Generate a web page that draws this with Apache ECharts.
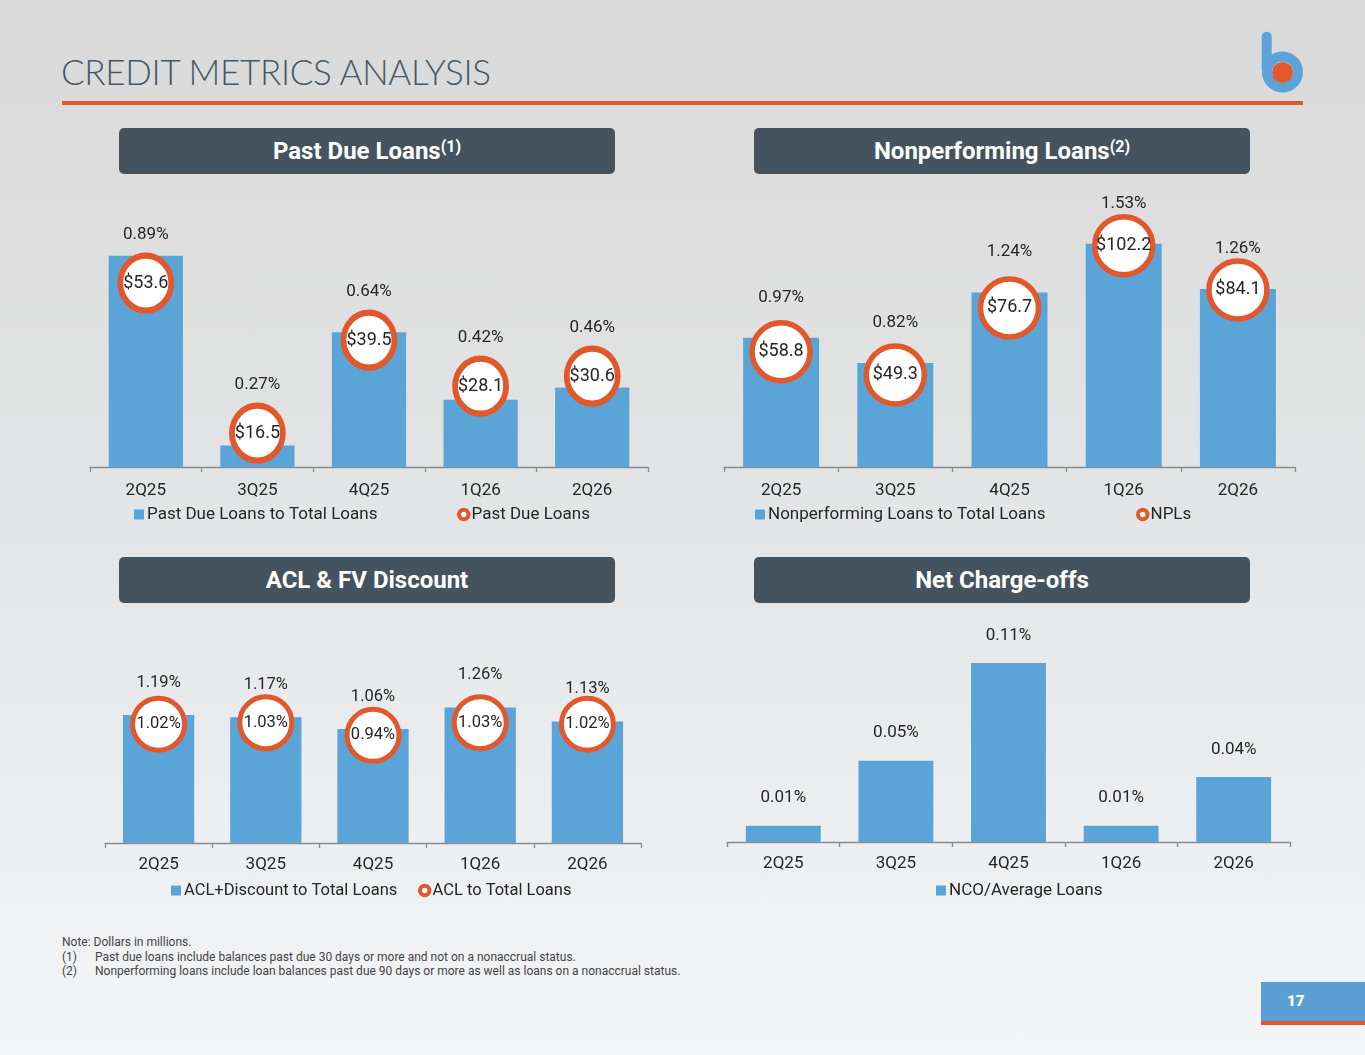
<!DOCTYPE html>
<html>
<head>
<meta charset="utf-8">
<title>Credit Metrics Analysis</title>
<script src="https://cdn.jsdelivr.net/npm/echarts@6.0.0/dist/echarts.min.js"></script>
<style>
  html, body { margin: 0; padding: 0; }
  body {
    width: 1365px; height: 1055px; position: relative; overflow: hidden;
    background: linear-gradient(to bottom, #d9d9d9 0%, #e4e5e6 50%, #f4f5f7 100%);
    font-family: Roboto, "Noto Sans", sans-serif;
  }
  .title { position: absolute; left: 61px; top: 50px; font-family: Lato, sans-serif; font-weight: 300; font-size: 35px; letter-spacing: -0.3px; line-height: normal; color: #475864; white-space: nowrap; }
  .rule { position: absolute; left: 62px; top: 101px; width: 1241px; height: 3.5px; background: #e0582c; }
  .hdr { position: absolute; width: 496px; height: 46px; background: #45535f; border-radius: 5px; color: #fff; font-weight: bold; font-size: 24px; text-align: center; line-height: 46px; }
  .hdr sup { font-size: 16px; vertical-align: 7px; line-height: 0; }
  .chart { position: absolute; }
  .notes { position: absolute; left: 62px; top: 935px; font-size: 12px; line-height: 14.5px; color: #444; white-space: nowrap; }
  .notes span { display: inline-block; width: 33px; }
  .pgnum { position: absolute; left: 1261px; top: 982px; width: 104px; height: 39px; background: #5b9fd4; border-bottom: 4px solid #e0582c; color: #fff; font-weight: bold; font-size: 15px; line-height: 39px; }
  .pgnum b { position: absolute; left: 26px; }
</style>
</head>
<body>

<div class="title">CREDIT METRICS ANALYSIS</div>
<div class="rule"></div>
<svg style="position:absolute;left:1250px;top:25px" width="70" height="75">
  <line x1="16.7" y1="11.7" x2="16.7" y2="44" stroke="#5ba3d8" stroke-width="10" stroke-linecap="round"/>
  <circle cx="32.5" cy="47" r="15.5" fill="none" stroke="#5ba3d8" stroke-width="10"/>
  <circle cx="32.5" cy="47.5" r="10.5" fill="#e4592b"/>
</svg>

<div class="hdr" style="left:119px;top:128px">Past Due Loans<sup>(1)</sup></div>
<div class="hdr" style="left:754px;top:128px">Nonperforming Loans<sup>(2)</sup></div>
<div class="hdr" style="left:119px;top:557px">ACL &amp; FV Discount</div>
<div class="hdr" style="left:754px;top:557px">Net Charge-offs</div>

<div id="pastDue" class="chart" style="left:80px;top:180px;width:580px;height:360px"></div>
<div id="npl" class="chart" style="left:700px;top:180px;width:610px;height:360px"></div>
<div id="acl" class="chart" style="left:95px;top:620px;width:560px;height:280px"></div>
<div id="nco" class="chart" style="left:715px;top:620px;width:590px;height:280px"></div>

<div class="notes">
  Note: Dollars in millions.<br>
  <span>(1)</span>Past due loans include balances past due 30 days or more and not on a nonaccrual status.<br>
  <span>(2)</span>Nonperforming loans include loan balances past due 90 days or more as well as loans on a nonaccrual status.
</div>

<div class="pgnum"><b>17</b></div>

<script>
'use strict'

/*----data----*/
var quarters = ['2Q25', '3Q25', '4Q25', '1Q26', '2Q26'];
var pastDuePct = [0.89, 0.27, 0.64, 0.42, 0.46];
var pastDueAmt = [53.6, 16.5, 39.5, 28.1, 30.6];
var nplPct = [0.97, 0.82, 1.24, 1.53, 1.26];
var nplAmt = [58.8, 49.3, 76.7, 102.2, 84.1];
var aclDiscPct = [1.19, 1.17, 1.06, 1.26, 1.13];
var aclPct = [1.02, 1.03, 0.94, 1.03, 1.02];
var ncoPct = [0.01, 0.05, 0.11, 0.01, 0.04];

var barBlue = '#5aa4d8';
var ringOrange = '#e0582c';
var textDark = '#262626';
var font = 'Roboto';

function pctLabel(p) { return p.value.toFixed(2) + '%'; }
function dollarLabel(p) { return '$' + p.value.toFixed(1); }

function catAxis(margin) {
	return {
		type: 'category',
		data: quarters,
		axisLine: { show: true, lineStyle: { color: '#8c8c8c', width: 1.3 } },
		axisTick: { show: true, length: 5, lineStyle: { color: '#8c8c8c', width: 1.3 } },
		axisLabel: { color: textDark, fontSize: 17, margin: margin, fontFamily: font }
	};
}

function valAxis(min, max) {
	return { type: 'value', min: min, max: max, startValue: min, show: false };
}

function barSeries(name, data, dist, size) {
	return {
		name: name,
		type: 'bar',
		data: data,
		barWidth: '66.5%',
		clip: true,
		itemStyle: { color: barBlue },
		label: { show: true, position: 'top', distance: dist, formatter: pctLabel, fontSize: size, color: textDark, fontFamily: font }
	};
}

function ringSeries(name, data, size, border, fmt, fsize) {
	return {
		name: name,
		type: 'scatter',
		yAxisIndex: 1,
		data: data,
		symbol: 'circle',
		symbolSize: size,
		z: 3,
		itemStyle: { color: '#fff', borderColor: ringOrange, borderWidth: border, opacity: 1 },
		label: { show: true, position: 'inside', formatter: fmt, fontSize: fsize, color: textDark, fontFamily: font }
	};
}

function legendBox(left, top, name, fsize) {
	return { left: left, top: top, padding: 0, itemWidth: 10, itemHeight: 10,
		textStyle: { fontSize: fsize, color: textDark, fontFamily: font, padding: [0, 0, 0, -2] },
		data: [{ name: name, icon: 'rect' }] };
}

function legendRing(left, top, name, fsize) {
	return { left: left, top: top, padding: 0, itemWidth: 9.5, itemHeight: 9.5,
		textStyle: { fontSize: fsize, color: textDark, fontFamily: font, padding: [0, 0, 0, -2] },
		itemStyle: { color: '#fff', borderColor: ringOrange, borderWidth: 4 },
		data: [{ name: name, icon: 'circle' }] };
}

/*----Past Due Loans----*/
var pastDueChart = echarts.init(document.getElementById('pastDue'));
pastDueChart.setOption({
	animation: false,
	grid: { left: 10, right: 12, top: 42, bottom: 73 },
	xAxis: catAxis(15),
	yAxis: [valAxis(0.2, 1.0), valAxis(8.1, 68.7)],
	legend: [legendBox(54, 326, 'Past Due Loans to Total Loans', 17), legendRing(377, 326, 'Past Due Loans', 17)],
	series: [
		barSeries('Past Due Loans to Total Loans', pastDuePct, 20, 17),
		ringSeries('Past Due Loans', pastDueAmt, [51, 55], 6, dollarLabel, 18)
	]
});
// lift the % label above whichever is higher: bar top or ring top
var pastDueLabels = pastDuePct.map(function (v, i) {
	var barTop = pastDueChart.convertToPixel({ yAxisIndex: 0 }, v);
	var ringTop = pastDueChart.convertToPixel({ yAxisIndex: 1 }, pastDueAmt[i]) - 30.5;
	return { value: v, label: { distance: barTop - Math.min(barTop, ringTop) + 9 } };
});
pastDueChart.setOption({ series: [{ data: pastDueLabels }] });
/*----End Past Due Loans----*/

/*----Nonperforming Loans----*/
var nplChart = echarts.init(document.getElementById('npl'));
nplChart.setOption({
	animation: false,
	grid: { left: 24, right: 15, top: 52, bottom: 73 },
	xAxis: catAxis(15),
	yAxis: [valAxis(0.2, 1.6), valAxis(11.6, 107.8)],
	legend: [legendBox(55, 326, 'Nonperforming Loans to Total Loans', 17), legendRing(436, 326, 'NPLs', 17)],
	series: [
		barSeries('Nonperforming Loans to Total Loans', nplPct, 32, 17),
		ringSeries('NPLs', nplAmt, 58, 5.5, dollarLabel, 18)
	]
});
/*----End Nonperforming Loans----*/

/*----ACL & FV Discount----*/
var aclChart = echarts.init(document.getElementById('acl'));
aclChart.setOption({
	animation: false,
	grid: { left: 10, right: 14, top: 51, bottom: 57 },
	xAxis: catAxis(13),
	yAxis: [valAxis(0, 1.6), valAxis(0.17, 1.4)],
	legend: [legendBox(76, 262, 'ACL+Discount to Total Loans', 16.5), legendRing(323, 262, 'ACL to Total Loans', 16.5)],
	series: [
		barSeries('ACL+Discount to Total Loans', aclDiscPct, 24, 16.5),
		ringSeries('ACL to Total Loans', aclPct, 52, 5, pctLabel, 16.5)
	]
});
/*----End ACL & FV Discount----*/

/*----Net Charge-offs----*/
var ncoChart = echarts.init(document.getElementById('nco'));
ncoChart.setOption({
	animation: false,
	grid: { left: 12, right: 15, top: 10.5, bottom: 58 },
	xAxis: catAxis(13),
	yAxis: valAxis(0, 0.13),
	legend: legendBox(221, 262, 'NCO/Average Loans', 17),
	series: [barSeries('NCO/Average Loans', ncoPct, 19, 17)]
});
/*----End Net Charge-offs----*/
</script>
</body>
</html>
